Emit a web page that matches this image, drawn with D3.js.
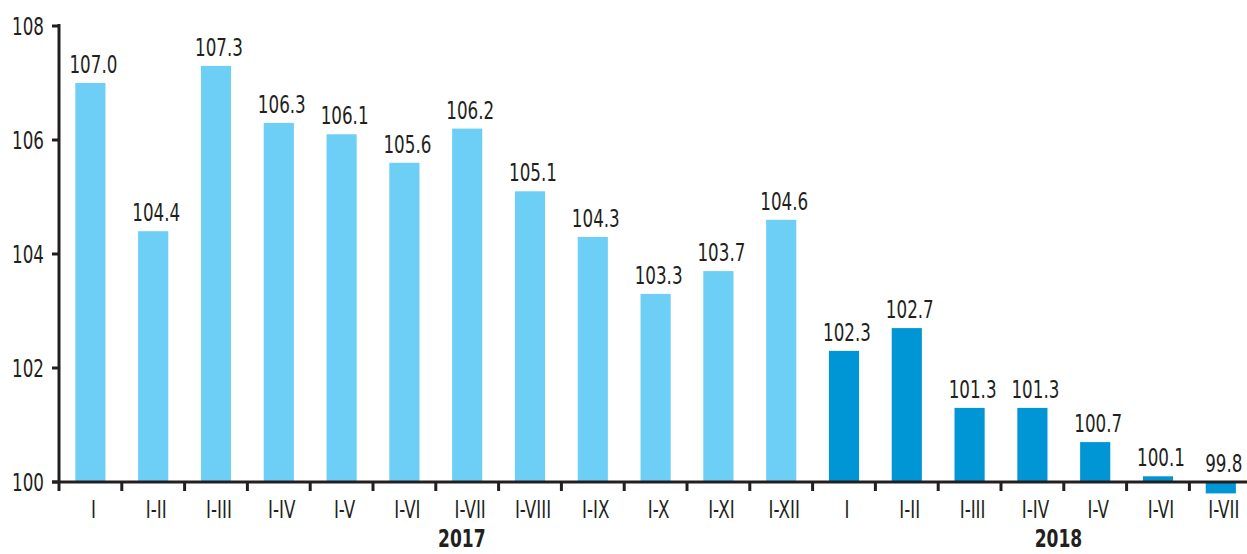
<!DOCTYPE html>
<html><head><meta charset="utf-8">
<script src="https://cdn.jsdelivr.net/npm/d3@7"></script>
<style>
html,body{margin:0;padding:0;background:#fff;}
svg{display:block;}
text{font-family:"DejaVu Sans Condensed","Liberation Sans Narrow",sans-serif;fill:#231f20;}
</style></head>
<body>
<svg id="c" width="1247" height="554"></svg>
<script>
const categories = ["I","I-II","I-III","I-IV","I-V","I-VI","I-VII","I-VIII","I-IX","I-X","I-XI","I-XII",
                    "I","I-II","I-III","I-IV","I-V","I-VI","I-VII"];
const years = ["2017","2017","2017","2017","2017","2017","2017","2017","2017","2017","2017","2017",
               "2018","2018","2018","2018","2018","2018","2018"];
const values = [107.0,104.4,107.3,106.3,106.1,105.6,106.2,105.1,104.3,103.3,103.7,104.6,
                102.3,102.7,101.3,101.3,100.7,100.1,99.8];
const yTicks = [100,102,104,106,108];
const yearLabels = ["2017","2018"];
const colors = {"2017":"#6dcff6","2018":"#0096d6"};

const SX = 0.76;   // horizontal squeeze to imitate a narrow typeface
const FS = 24.5;
const ink = "#231f20";

const svg = d3.select("#c");
const ids = d3.range(values.length);
const x = d3.scaleBand().domain(ids).range([59, 59 + 19*62.8]).paddingInner(0.52).paddingOuter(0.26);
const y = d3.scaleLinear().domain([100,108]).range([482,26]);
const half = (x.step() - x.bandwidth())/2;

function narrowText(sel, fx, fy) {
  return sel.attr("x", 0).attr("y", 0)
    .attr("transform", (d,i) => `translate(${fx(d,i)},${fy(d,i)}) scale(${SX},1)`);
}

// bars
svg.append("g").selectAll("rect").data(ids).join("rect")
  .attr("x", i => x(i))
  .attr("width", x.bandwidth())
  .attr("y", i => Math.min(y(values[i]), y(100)))
  .attr("height", i => Math.abs(y(values[i]) - y(100)))
  .attr("fill", i => colors[years[i]]);

// value labels
narrowText(svg.append("g").selectAll("text").data(ids).join("text"),
  i => x(i) + x.bandwidth()/2 + 3,
  i => Math.min(y(values[i]), y(100)) - 10)
  .attr("text-anchor","middle")
  .attr("font-size", FS)
  .text(i => values[i].toFixed(1));

// y axis ticks + labels
const yg = svg.append("g");
yg.selectAll("line").data(yTicks).join("line")
  .attr("x1", 52).attr("x2", 59).attr("y1", d => y(d)).attr("y2", d => y(d))
  .attr("stroke", ink).attr("stroke-width", 3);
narrowText(yg.selectAll("text").data(yTicks).join("text"),
  d => 44, d => y(d) + 9)
  .attr("text-anchor","end")
  .attr("font-size", FS)
  .text(d => d3.format("d")(d));
yg.append("line").attr("x1",59).attr("x2",59).attr("y1",24).attr("y2",491)
  .attr("stroke",ink).attr("stroke-width",3);

// x axis line
svg.append("line").attr("x1",52).attr("x2",1247).attr("y1",y(100)).attr("y2",y(100))
  .attr("stroke",ink).attr("stroke-width",3);

// x ticks at band boundaries
const bounds = d3.range(1, values.length);
svg.append("g").selectAll("line").data(bounds).join("line")
  .attr("x1", k => x(k) - half)
  .attr("x2", k => x(k) - half)
  .attr("y1", y(100)).attr("y2", 491)
  .attr("stroke",ink).attr("stroke-width",3);

// category labels
narrowText(svg.append("g").selectAll("text").data(ids).join("text"),
  i => x(i) + x.bandwidth()/2 + 3, i => 518)
  .attr("text-anchor","middle")
  .attr("font-size", FS)
  .text(i => categories[i]);

// year labels
yearLabels.forEach(yr => {
  const idx = ids.filter(i => years[i] === yr);
  const x0 = x(idx[0]) - half;
  const x1 = x(idx[idx.length-1]) + x.bandwidth() + half;
  svg.append("text")
    .attr("transform", `translate(${(x0 + x1)/2 + 26},547) scale(${SX},1)`)
    .attr("text-anchor","middle")
    .attr("font-size", 25)
    .attr("font-weight","bold")
    .text(yr);
});
</script>
</body></html>
